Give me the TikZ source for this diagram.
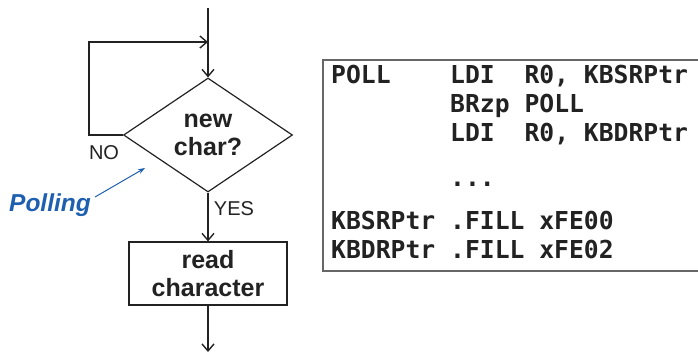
\documentclass[tikz,border=0pt]{standalone}
\usepackage{fontspec}
\setmainfont{Liberation Sans}
\setmonofont{DejaVu Sans Mono}
\usetikzlibrary{shapes.geometric,arrows.meta}
\definecolor{inkdark}{HTML}{222222}
\definecolor{pollblue}{HTML}{1F5FB0}
\tikzset{
  flowline/.style={draw=inkdark,line width=1.6pt,-{Straight Barb[length=7pt,width=12pt,line width=1.4pt]}},
  decide/.style={diamond,draw=inkdark,line width=1.2pt,minimum width=169pt,minimum height=114pt,inner sep=0pt,
    align=center,font=\fontsize{25}{28}\selectfont\bfseries,text=inkdark},
  action/.style={rectangle,draw=inkdark,line width=1.2pt,minimum width=158pt,minimum height=63pt,inner sep=0pt,
    align=center,font=\fontsize{25}{28}\selectfont\bfseries,text=inkdark},
  branch/.style={font=\fontsize{20}{24}\selectfont,text=inkdark,inner sep=0pt},
  codeline/.style={anchor=base west,inner sep=0pt,font=\fontsize{24.7}{29}\selectfont\ttfamily\bfseries,text=inkdark}
}
\begin{document}
\begin{tikzpicture}[x=1pt,y=-1pt]
  \useasboundingbox (0,0) rectangle (698,354);
  % flowchart
  \coordinate (entry) at (208,8);
  \coordinate (join) at (208,42);
  \node[decide] (newchar) at (208,135) {new\\char?};
  \node[action] (readchar) at (208,273.5) {read\\character};
  \coordinate (exitpt) at (208,352);
  \draw[flowline] (entry) -- (newchar.north);
  \draw[flowline] (newchar.west) -- (89,135) |- (join);
  \draw[flowline] (newchar.south) -- (readchar.north);
  \draw[flowline] (readchar.south) -- (exitpt);
  \node[branch] (no) at (104,153) {NO};
  \node[branch] (yes) at (234,209) {YES};
  % polling note
  \node[font=\fontsize{24.5}{28}\selectfont\bfseries\itshape,text=pollblue,inner sep=0pt] (polling) at (50,205) {Polling};
  \coordinate (pollend) at (145,168);
  \draw[pollblue,line width=1pt,-{Stealth[length=7pt,width=5pt]}] ([xshift=4pt,yshift=8pt]polling.east) -- (pollend);
  % code listing
  \draw[draw=black!60,line width=1.3pt] (323,60) rectangle (702,271);
  \node[codeline] (poll) at (331,83) {POLL~~~~LDI~~R0, KBSRPtr};
  \node[codeline] (brzp) at (331,112) {~~~~~~~~BRzp POLL};
  \node[codeline] (ldidr) at (331,141) {~~~~~~~~LDI~~R0, KBDRPtr};
  \node[codeline] (dots) at (331,186) {~~~~~~~~...};
  \node[codeline] (kbsr) at (331,229) {KBSRPtr .FILL xFE00};
  \node[codeline] (kbdr) at (331,258) {KBDRPtr .FILL xFE02};
\end{tikzpicture}
\end{document}
